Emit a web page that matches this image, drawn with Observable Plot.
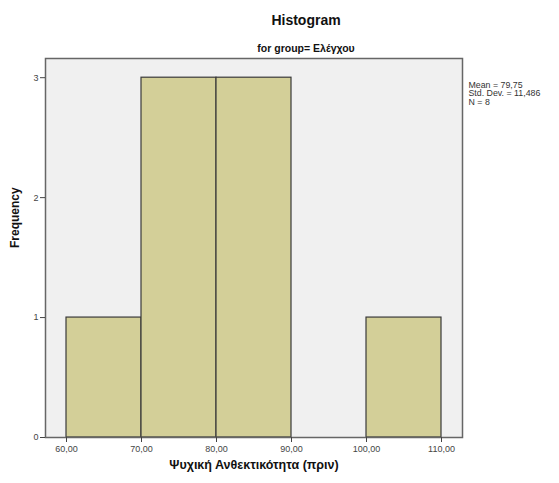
<!DOCTYPE html>
<html>
<head>
<meta charset="utf-8">
<script src="https://cdn.jsdelivr.net/npm/d3@7"></script>
<script src="https://cdn.jsdelivr.net/npm/@observablehq/plot@0.6"></script>
<style>
  html, body { margin: 0; padding: 0; background: #fff; }
  svg { font-family: "Liberation Sans", Arial, sans-serif; }
</style>
</head>
<body>
<div id="chart"></div>
<script>
// Histogram bins (lower/upper edges) and frequency in each bin
const binLower = [60, 70, 80, 90, 100];
const binUpper = [70, 80, 90, 100, 110];
const frequency = [1, 3, 3, 0, 1];

const xTicks = [60, 70, 80, 90, 100, 110];
const yTicks = [0, 1, 2, 3];

const titleText = "Histogram";
const subtitleText = "for group= Ελέγχου";
const xLabel = "Ψυχική Ανθεκτικότητα (πριν)";
const yLabel = "Frequency";
const statLines = ["Mean = 79,75", "Std. Dev. = 11,486", "N = 8"];

const bins = binLower.map((lo, i) => ({lo, hi: binUpper[i], n: frequency[i]}));
const fmt = d => d.toFixed(2).replace(".", ",");

// summary statistics beside the plot, one text mark per line
const statMarks = statLines.map((line, i) =>
  Plot.text([line], {
    frameAnchor: "top-right", dx: 6, dy: 23 + i * 8.5, textAnchor: "start",
    text: d => d, fontSize: 8.8, fill: "#333"
  })
);

const chart = Plot.plot({
  width: 559,
  height: 483,
  marginLeft: 45,
  marginRight: 97,
  marginTop: 58,
  marginBottom: 46,
  style: {background: "#fff", fontFamily: "'Liberation Sans', Arial, sans-serif", overflow: "visible"},
  x: {domain: [57.2, 112.8]},
  y: {domain: [0, 3.16]},
  marks: [
    Plot.frame({fill: "#f0f0f0"}),
    Plot.rectY(bins.filter(d => d.n > 0), {
      x1: "lo", x2: "hi", y1: 0, y2: "n",
      fill: "#d3cf98", stroke: "#3a3a3a", strokeWidth: 1.2
    }),
    Plot.frame({stroke: "#666", strokeWidth: 1.5}),
    Plot.axisX({
      ticks: xTicks, tickFormat: fmt, tickSize: 5, tickPadding: 3,
      fontSize: 9, color: "#444", stroke: "#444", label: null
    }),
    Plot.axisY({
      ticks: yTicks, tickFormat: d => String(d), tickSize: 5, tickPadding: 2,
      fontSize: 9, color: "#444", stroke: "#444", label: null
    }),
    // title and subtitle
    Plot.text([titleText], {
      frameAnchor: "top", dx: 52, dy: -43, text: d => d,
      fontSize: 14, fontWeight: "bold", fill: "#111"
    }),
    Plot.text([subtitleText], {
      frameAnchor: "top", dx: 52, dy: -14, text: d => d,
      fontSize: 10.5, fontWeight: "bold", fill: "#111"
    }),
    // axis titles
    Plot.text([xLabel], {
      frameAnchor: "bottom", dy: 31, text: d => d,
      fontSize: 12.5, fontWeight: "bold", fill: "#111"
    }),
    Plot.text([yLabel], {
      frameAnchor: "left", dx: -30, rotate: -90, text: d => d,
      fontSize: 12, fontWeight: "bold", fill: "#111"
    }),
    ...statMarks
  ]
});

document.getElementById("chart").appendChild(chart);
</script>
</body>
</html>
